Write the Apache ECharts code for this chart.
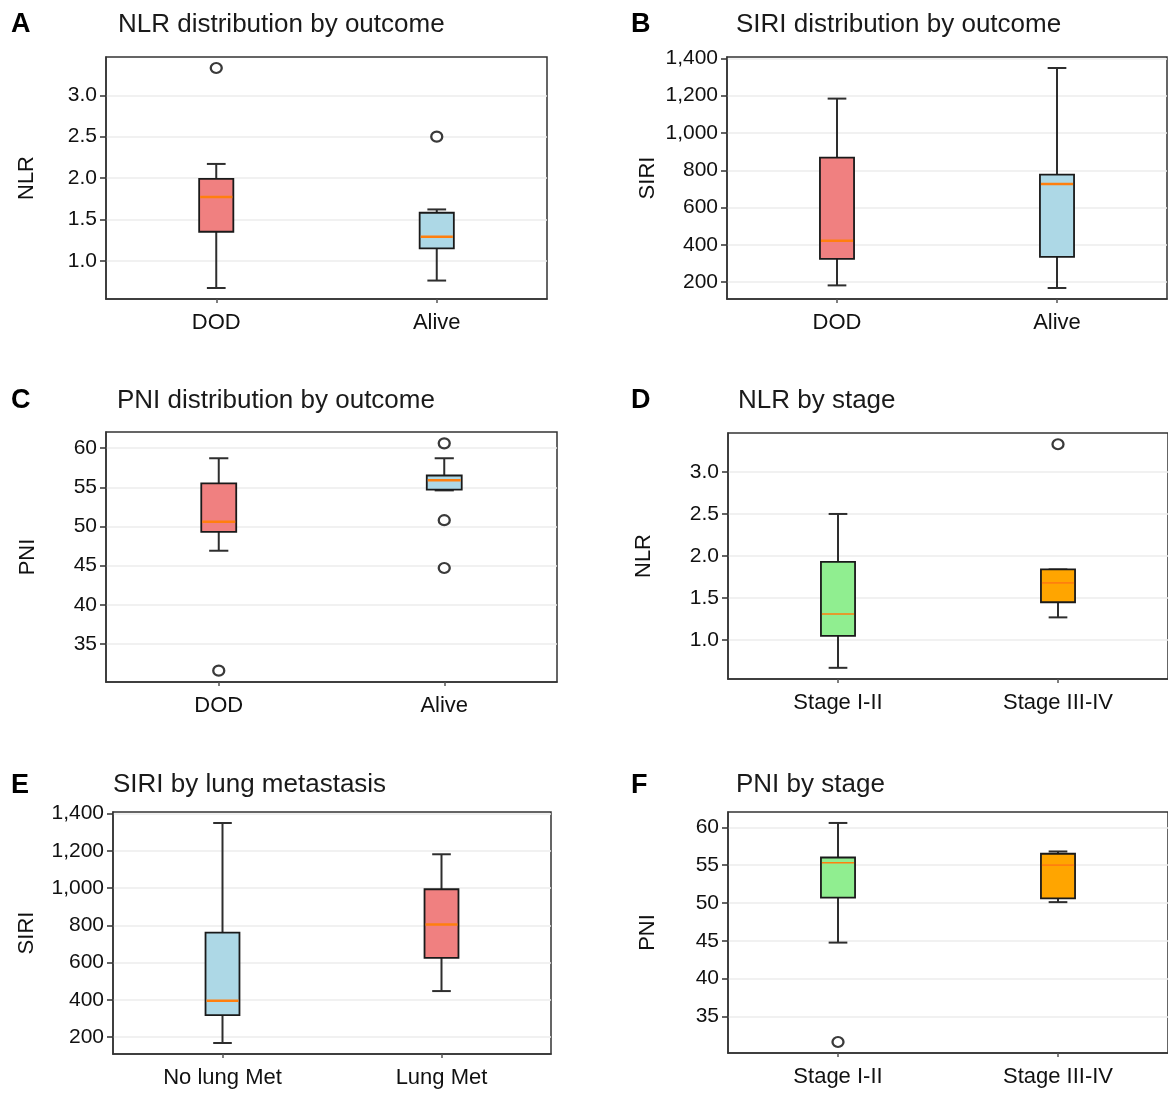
<!DOCTYPE html>
<html><head><meta charset="utf-8">
<script src="https://cdn.jsdelivr.net/npm/echarts@6/dist/echarts.min.js"></script>
<style>html,body{margin:0;padding:0;background:#fff}#c{width:1168px;height:1097px}</style>
</head><body><div id="c"></div>
<script>
const FONT = "'Liberation Sans', Arial, Helvetica, sans-serif";

// Categories
const catsOutcome = ['DOD', 'Alive'];
const catsStage = ['Stage I-II', 'Stage III-IV'];
const catsLung = ['No lung Met', 'Lung Met'];

// Box stats: [lower whisker, Q1, median, Q3, upper whisker]
const nlrOutcomeBoxes = [[0.67, 1.35, 1.77, 1.99, 2.17], [0.76, 1.15, 1.29, 1.58, 1.62]];
const nlrOutcomeOutliers = [[0, 3.33], [1, 2.50]];
const siriOutcomeBoxes = [[183, 325, 422, 868, 1184], [169, 336, 727, 777, 1348]];
const siriOutcomeOutliers = [];
const pniOutcomeBoxes = [[46.9, 49.3, 50.6, 55.5, 58.7], [54.6, 54.7, 55.9, 56.5, 58.7]];
const pniOutcomeOutliers = [[0, 31.6], [1, 60.6], [1, 50.8], [1, 44.7]];
const nlrStageBoxes = [[0.67, 1.05, 1.31, 1.93, 2.50], [1.27, 1.45, 1.68, 1.84, 1.84]];
const nlrStageOutliers = [[1, 3.33]];
const siriLungBoxes = [[168, 318, 395, 761, 1350], [447, 625, 804, 994, 1182]];
const siriLungOutliers = [];
const pniStageBoxes = [[44.75, 50.7, 55.3, 56.0, 60.57], [50.1, 50.6, 55.0, 56.5, 56.8]];
const pniStageOutliers = [[0, 31.6]];

// Tick labels
const nlrTicks = [1.0, 1.5, 2.0, 2.5, 3.0];
const siriTicks = [200, 400, 600, 800, 1000, 1200, 1400];
const pniTicks = [35, 40, 45, 50, 55, 60];

// Colours
const outcomeColors = ['#F08080', '#ADD8E6'];
const stageColors = ['#90EE90', '#FFA500'];
const lungColors = ['#ADD8E6', '#F08080'];

const fmt1 = v => Number(v).toFixed(1);
const fmtInt = v => String(Math.round(v));
const fmtComma = v => Math.round(v).toLocaleString('en-US');

const panels = [
  {letter: 'A', title: 'NLR distribution by outcome', cats: catsOutcome, boxes: nlrOutcomeBoxes, outliers: nlrOutcomeOutliers, colors: outcomeColors, ticks: nlrTicks, fmt: fmt1, yName: 'NLR',
   grid: {left: 106, top: 57, width: 441, height: 242}, letterPos: [11, 11], titlePos: [118, 12], nameGap: 68, medW: 2.5},
  {letter: 'B', title: 'SIRI distribution by outcome', cats: catsOutcome, boxes: siriOutcomeBoxes, outliers: siriOutcomeOutliers, colors: outcomeColors, ticks: siriTicks, fmt: fmtComma, yName: 'SIRI',
   grid: {left: 727, top: 57, width: 440, height: 242}, letterPos: [631, 11], titlePos: [736, 12], nameGap: 68, medW: 2.5},
  {letter: 'C', title: 'PNI distribution by outcome', cats: catsOutcome, boxes: pniOutcomeBoxes, outliers: pniOutcomeOutliers, colors: outcomeColors, ticks: pniTicks, fmt: fmtInt, yName: 'PNI',
   grid: {left: 106, top: 432, width: 451, height: 250}, letterPos: [11, 387], titlePos: [117, 388], nameGap: 67, medW: 2.5},
  {letter: 'D', title: 'NLR by stage', cats: catsStage, boxes: nlrStageBoxes, outliers: nlrStageOutliers, colors: stageColors, ticks: nlrTicks, fmt: fmt1, yName: 'NLR',
   grid: {left: 728, top: 433, width: 440, height: 246}, letterPos: [631, 387], titlePos: [738, 388], nameGap: 73, medW: 1.6},
  {letter: 'E', title: 'SIRI by lung metastasis', cats: catsLung, boxes: siriLungBoxes, outliers: siriLungOutliers, colors: lungColors, ticks: siriTicks, fmt: fmtComma, yName: 'SIRI',
   grid: {left: 113, top: 812, width: 438, height: 242}, letterPos: [11, 772], titlePos: [113, 772], nameGap: 75, medW: 2.5},
  {letter: 'F', title: 'PNI by stage', cats: catsStage, boxes: pniStageBoxes, outliers: pniStageOutliers, colors: stageColors, ticks: pniTicks, fmt: fmtInt, yName: 'PNI',
   grid: {left: 728, top: 812, width: 440, height: 241}, letterPos: [631, 772], titlePos: [736, 772], nameGap: 69, medW: 1.6}
];

function yExtent(boxes, outs) {
  let lo = Infinity, hi = -Infinity;
  boxes.forEach(b => { lo = Math.min(lo, b[0]); hi = Math.max(hi, b[4]); });
  outs.forEach(o => { lo = Math.min(lo, o[1]); hi = Math.max(hi, o[1]); });
  const m = (hi - lo) * 0.05;
  return [lo - m, hi + m];
}

function makeRender(medW) {
  return function (params, api) {
    const x = api.value(0);
    const pLow = api.coord([x, api.value(1)]);
    const pQ1 = api.coord([x, api.value(2)]);
    const pMed = api.coord([x, api.value(3)]);
    const pQ3 = api.coord([x, api.value(4)]);
    const pHigh = api.coord([x, api.value(5)]);
    const band = api.size([1, 0])[0];
    const bw = band * 0.155;
    const cw = band * 0.085;
    const cx = pQ1[0];
    const fill = api.visual('color');
    const wStyle = {stroke: '#2e2e2e', lineWidth: 2};
    return {
      type: 'group',
      children: [
        {type: 'line', shape: {x1: cx, y1: pQ3[1], x2: cx, y2: pHigh[1]}, style: wStyle},
        {type: 'line', shape: {x1: cx, y1: pLow[1], x2: cx, y2: pQ1[1]}, style: wStyle},
        {type: 'line', shape: {x1: cx - cw / 2, y1: pHigh[1], x2: cx + cw / 2, y2: pHigh[1]}, style: wStyle},
        {type: 'line', shape: {x1: cx - cw / 2, y1: pLow[1], x2: cx + cw / 2, y2: pLow[1]}, style: wStyle},
        {type: 'rect', shape: {x: cx - bw / 2, y: pQ3[1], width: bw, height: pQ1[1] - pQ3[1]},
         style: {fill: fill, stroke: '#1a1a1a', lineWidth: 1.8}},
        {type: 'line', shape: {x1: cx - bw / 2 + 1, y1: pMed[1], x2: cx + bw / 2 - 1, y2: pMed[1]},
         style: {stroke: '#FF7F0E', lineWidth: medW}}
      ]
    };
  };
}

const option = {
  animation: false,
  backgroundColor: '#fff',
  title: [], grid: [], xAxis: [], yAxis: [], series: []
};

panels.forEach((p, i) => {
  option.title.push({text: p.letter, left: p.letterPos[0], top: p.letterPos[1], padding: 0,
    textStyle: {fontFamily: FONT, fontSize: 27, fontWeight: 'bold', color: '#000'}});
  option.title.push({text: p.title, left: p.titlePos[0], top: p.titlePos[1], padding: 0,
    textStyle: {fontFamily: FONT, fontSize: 26, fontWeight: 'normal', color: '#1a1a1a'}});
  option.grid.push(Object.assign({show: true, borderColor: '#333', borderWidth: 1.5, backgroundColor: 'transparent'}, p.grid));
  option.xAxis.push({
    type: 'category', gridIndex: i, data: p.cats,
    axisLine: {show: true, lineStyle: {color: '#333', width: 1.5}},
    axisTick: {show: true, alignWithLabel: true, length: 4, lineStyle: {color: '#555', width: 1.5}},
    axisLabel: {fontFamily: FONT, fontSize: 22, color: '#111', margin: 13},
    splitLine: {show: false}
  });
  const ext = yExtent(p.boxes, p.outliers);
  option.yAxis.push({
    type: 'value', gridIndex: i, min: ext[0], max: ext[1],
    name: p.yName, nameLocation: 'middle', nameGap: p.nameGap,
    nameTextStyle: {fontFamily: FONT, fontSize: 22, color: '#111'},
    axisLine: {show: true, lineStyle: {color: '#333', width: 1.5}},
    axisTick: {show: true, length: 6, customValues: p.ticks, lineStyle: {color: '#333', width: 1.5}},
    axisLabel: {customValues: p.ticks, formatter: p.fmt, fontFamily: FONT, fontSize: 21, color: '#111', margin: 9},
    splitLine: {show: true, lineStyle: {color: '#ececec', width: 1.5}}
  });
  option.series.push({
    type: 'custom', xAxisIndex: i, yAxisIndex: i, z: 2,
    renderItem: makeRender(p.medW),
    encode: {x: 0, y: [1, 2, 3, 4, 5]},
    data: p.boxes.map((b, j) => ({value: [j].concat(b), itemStyle: {color: p.colors[j]}}))
  });
  option.series.push({
    type: 'scatter', xAxisIndex: i, yAxisIndex: i, z: 3,
    symbol: 'circle', symbolSize: [11, 10],
    itemStyle: {color: '#fff', borderColor: '#3a3a3a', borderWidth: 2.2, opacity: 1},
    data: p.outliers
  });
});

const chart = echarts.init(document.getElementById('c'), null, {renderer: 'canvas'});
chart.setOption(option);
</script>
</body></html>
